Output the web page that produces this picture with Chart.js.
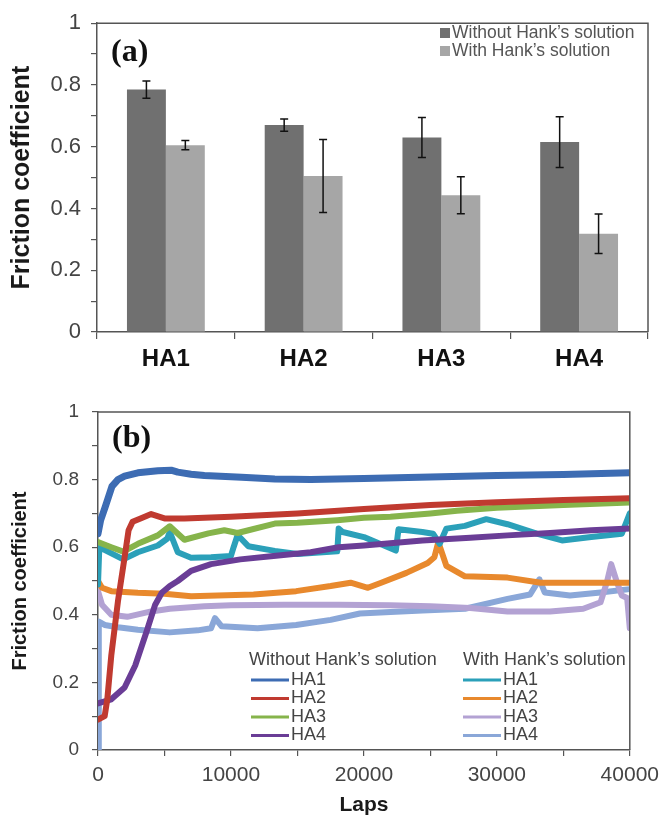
<!DOCTYPE html>
<html>
<head>
<meta charset="utf-8">
<script src="https://cdn.jsdelivr.net/npm/chart.js@4.4.1/dist/chart.umd.min.js"></script>
<style>
  html, body { margin: 0; padding: 0; background: #fff; }
  #wrapA { position: absolute; left: 0; top: 0; width: 666px; height: 380px; }
  #wrapB { position: absolute; left: 0; top: 380px; width: 666px; height: 448px; }
</style>
</head>
<body>
<div id="wrapA"><canvas id="chartA" width="666" height="380"></canvas></div>
<div id="wrapB"><canvas id="chartB" width="666" height="448"></canvas></div>
<script>
// ---- panel (a): mean friction coefficient ----
let samples = ['HA1', 'HA2', 'HA3', 'HA4'];
let withoutHank = [0.785, 0.670, 0.630, 0.615];
let withoutHankErr = [0.028, 0.020, 0.065, 0.082];
let withHank = [0.605, 0.505, 0.443, 0.318];
let withHankErr = [0.015, 0.118, 0.060, 0.064];

let frictionTicks = [0, 0.1, 0.2, 0.3, 0.4, 0.5, 0.6, 0.7, 0.8, 0.9, 1];
let frictionLabels = ['0', '', '0.2', '', '0.4', '', '0.6', '', '0.8', '', '1'];

// ---- panel (b): friction coefficient vs laps ----
let lapTicks = [0, 5000, 10000, 15000, 20000, 25000, 30000, 35000, 40000];
let lapLabels = ['0', '', '10000', '', '20000', '', '30000', '', '40000'];

let lapsDry1 = [0, 200, 550, 1050, 1500, 2000, 3000, 4500, 5500, 6000, 7000, 8000, 10800, 13300, 16000, 20000, 25000, 30000, 35000, 40000];
let fricDry1 = [0.64, 0.68, 0.72, 0.78, 0.80, 0.81, 0.82, 0.826, 0.828, 0.822, 0.816, 0.812, 0.807, 0.802, 0.80, 0.803, 0.808, 0.812, 0.815, 0.82];

let lapsDry2 = [0, 500, 700, 1000, 1500, 2000, 2300, 2600, 3200, 4000, 5000, 6500, 10000, 15000, 20000, 25000, 30000, 35000, 40000];
let fricDry2 = [0.09, 0.10, 0.15, 0.28, 0.44, 0.57, 0.65, 0.675, 0.685, 0.698, 0.685, 0.685, 0.69, 0.70, 0.713, 0.725, 0.733, 0.74, 0.745];

let lapsDry3 = [0, 1000, 1900, 3000, 4500, 5400, 6500, 8300, 9500, 10500, 13300, 15000, 18000, 20000, 22000, 25000, 27000, 30000, 35000, 40000];
let fricDry3 = [0.615, 0.60, 0.587, 0.61, 0.635, 0.662, 0.622, 0.641, 0.65, 0.642, 0.67, 0.672, 0.68, 0.687, 0.69, 0.70, 0.708, 0.717, 0.725, 0.732];

let lapsDry4 = [0, 1000, 2000, 2800, 3650, 4300, 4800, 5400, 6000, 7000, 8500, 10700, 13200, 16000, 18100, 20000, 24400, 28000, 30800, 34000, 37100, 40000];
let fricDry4 = [0.138, 0.15, 0.185, 0.25, 0.35, 0.43, 0.465, 0.485, 0.50, 0.53, 0.55, 0.564, 0.574, 0.585, 0.60, 0.605, 0.62, 0.628, 0.635, 0.642, 0.65, 0.655];

let lapsWet1 = [0, 100, 600, 1900, 3000, 4500, 5200, 5400, 6000, 7000, 8500, 10000, 10200, 10500, 11300, 13300, 15000, 18000, 18100, 18400, 20000, 22400, 22600, 24400, 25200, 25700, 26200, 27600, 29200, 30800, 33000, 34900, 37100, 39400, 40000];
let fricWet1 = [0.49, 0.60, 0.59, 0.564, 0.585, 0.605, 0.625, 0.645, 0.585, 0.569, 0.57, 0.574, 0.60, 0.636, 0.603, 0.589, 0.58, 0.588, 0.655, 0.645, 0.63, 0.59, 0.653, 0.645, 0.64, 0.61, 0.655, 0.663, 0.683, 0.668, 0.64, 0.62, 0.63, 0.64, 0.70];

let lapsWet2 = [0, 300, 1000, 3000, 5000, 7000, 9000, 11700, 14900, 17500, 19000, 20300, 21300, 23200, 24800, 25300, 25600, 26200, 27600, 30800, 33300, 37100, 40000];
let fricWet2 = [0.50, 0.48, 0.47, 0.465, 0.462, 0.455, 0.457, 0.46, 0.47, 0.485, 0.495, 0.48, 0.495, 0.524, 0.553, 0.57, 0.615, 0.545, 0.514, 0.51, 0.495, 0.495, 0.495];

let lapsWet3 = [0, 300, 1000, 2200, 4000, 5400, 8000, 10000, 14000, 18100, 22000, 25000, 28000, 30800, 34000, 36500, 37800, 38300, 38600, 39000, 39400, 39800, 40000];
let fricWet3 = [0.47, 0.43, 0.40, 0.394, 0.41, 0.418, 0.425, 0.428, 0.43, 0.43, 0.428, 0.425, 0.42, 0.41, 0.41, 0.418, 0.437, 0.50, 0.55, 0.50, 0.457, 0.45, 0.36];

let lapsWet4 = [0, 60, 500, 1500, 3000, 5400, 7500, 8500, 8800, 9300, 12000, 14900, 17500, 19700, 22000, 24400, 27600, 30800, 32500, 33200, 33600, 35500, 37800, 40000];
let fricWet4 = [0.0, 0.38, 0.37, 0.363, 0.356, 0.348, 0.354, 0.36, 0.39, 0.366, 0.36, 0.37, 0.385, 0.404, 0.408, 0.413, 0.418, 0.447, 0.46, 0.505, 0.466, 0.457, 0.466, 0.476];

let seriesNames = ['HA1', 'HA2', 'HA3', 'HA4'];
let dryColors = ['#3d6cb3', '#c03a30', '#86b44b', '#6a3d96'];
let wetColors = ['#2ba0b9', '#e8892d', '#b3a2d3', '#8aa7d8'];

const sans = '"Liberation Sans", Arial, sans-serif';
const axisGrey = '#555';

function toPoints(xs, ys) {
  return xs.map((x, i) => ({ x: x, y: ys[i] }));
}

// top and right frame lines
const frame = {
  id: 'frame',
  afterDraw(chart) {
    const ctx = chart.ctx, a = chart.chartArea;
    ctx.save();
    ctx.strokeStyle = axisGrey;
    ctx.lineWidth = 1.5;
    ctx.beginPath();
    ctx.moveTo(a.left, a.top);
    ctx.lineTo(a.right, a.top);
    ctx.lineTo(a.right, a.bottom);
    ctx.stroke();
    ctx.restore();
  }
};

const errorBars = {
  id: 'errorBars',
  afterDatasetsDraw(chart) {
    const ctx = chart.ctx, y = chart.scales.y;
    ctx.save();
    ctx.strokeStyle = '#111';
    ctx.lineWidth = 1.5;
    chart.data.datasets.forEach((ds, i) => {
      chart.getDatasetMeta(i).data.forEach((bar, j) => {
        const top = y.getPixelForValue(ds.data[j] + ds.errors[j]);
        const bot = y.getPixelForValue(ds.data[j] - ds.errors[j]);
        ctx.beginPath();
        ctx.moveTo(bar.x, top); ctx.lineTo(bar.x, bot);
        ctx.moveTo(bar.x - 4, top); ctx.lineTo(bar.x + 4, top);
        ctx.moveTo(bar.x - 4, bot); ctx.lineTo(bar.x + 4, bot);
        ctx.stroke();
      });
    });
    ctx.restore();
  }
};

const legendA = {
  id: 'legendA',
  afterDraw(chart) {
    const ctx = chart.ctx;
    ctx.save();
    ctx.font = 'bold 32px "Liberation Serif", "Times New Roman", serif';
    ctx.fillStyle = '#111';
    ctx.textBaseline = 'alphabetic';
    ctx.fillText('(a)', 111, 61);
    ctx.font = '17.5px ' + sans;
    ctx.textBaseline = 'middle';
    chart.data.datasets.forEach((ds, i) => {
      const yy = 33 + i * 18;
      ctx.fillStyle = ds.backgroundColor;
      ctx.fillRect(440, yy - 5, 10, 10);
      ctx.fillStyle = '#555';
      ctx.fillText(ds.label, 452, yy);
    });
    ctx.restore();
  }
};

const legendB = {
  id: 'legendB',
  afterDraw(chart) {
    const ctx = chart.ctx;
    ctx.save();
    ctx.font = 'bold 32px "Liberation Serif", "Times New Roman", serif';
    ctx.fillStyle = '#111';
    ctx.textBaseline = 'alphabetic';
    ctx.fillText('(b)', 112, 67);
    ctx.font = '18px ' + sans;
    ctx.textBaseline = 'middle';
    ctx.fillStyle = '#444';
    ctx.fillText('Without Hank\u2019s solution', 249, 280);
    ctx.fillText('With Hank\u2019s solution', 463, 280);
    ctx.lineWidth = 3;
    seriesNames.forEach((name, i) => {
      const yy = 300 + i * 18.5;
      [[251, dryColors[i]], [463, wetColors[i]]].forEach(([x0, c]) => {
        ctx.strokeStyle = c;
        ctx.beginPath();
        ctx.moveTo(x0, yy); ctx.lineTo(x0 + 38, yy);
        ctx.stroke();
        ctx.fillStyle = '#444';
        ctx.fillText(name, x0 + 40, yy);
      });
    });
    ctx.restore();
  }
};

function frictionAxis(titleSize, titlePad, tickSize, tickPad, width) {
  return {
    min: 0, max: 1,
    afterBuildTicks: s => { s.ticks = frictionTicks.map(v => ({ value: v })); },
    afterFit: s => { s.width = width; },
    border: { color: axisGrey, width: 1.5 },
    grid: { drawOnChartArea: false, tickLength: 6, color: axisGrey, lineWidth: 1.2 },
    ticks: {
      autoSkip: false, padding: tickPad, color: '#444',
      font: { family: sans, size: tickSize },
      callback: (v, i) => frictionLabels[i]
    },
    title: {
      display: true, text: 'Friction coefficient', color: '#1a1a1a',
      font: { family: sans, size: titleSize, weight: 'bold' },
      padding: { top: titlePad, bottom: 0 }
    }
  };
}

new Chart(document.getElementById('chartA').getContext('2d'), {
  type: 'bar',
  data: {
    labels: samples,
    datasets: [
      { label: 'Without Hank\u2019s solution', data: withoutHank, errors: withoutHankErr, backgroundColor: '#707070' },
      { label: 'With Hank\u2019s solution', data: withHank, errors: withHankErr, backgroundColor: '#a6a6a6' }
    ]
  },
  options: {
    responsive: false,
    animation: false,
    layout: { padding: { top: 18, right: 18, left: 0, bottom: 0 } },
    categoryPercentage: 0.565,
    barPercentage: 1.0,
    plugins: { legend: { display: false }, tooltip: { enabled: false } },
    scales: {
      x: {
        afterFit: s => { s.height = 48; },
        border: { color: axisGrey, width: 1.5 },
        grid: { offset: true, drawOnChartArea: false, tickLength: 7, color: axisGrey, lineWidth: 1.2 },
        ticks: { padding: 6, color: '#111', font: { family: sans, size: 24, weight: 'bold' } }
      },
      y: frictionAxis(25, 7, 22, 10, 97)
    }
  },
  plugins: [errorBars, frame, legendA]
});

let dryLaps = [lapsDry1, lapsDry2, lapsDry3, lapsDry4];
let dryFric = [fricDry1, fricDry2, fricDry3, fricDry4];
let wetLaps = [lapsWet1, lapsWet2, lapsWet3, lapsWet4];
let wetFric = [fricWet1, fricWet2, fricWet3, fricWet4];

let lineSets = [];
seriesNames.forEach((n, i) => {
  lineSets.push({ label: n + ' without', data: toPoints(dryLaps[i], dryFric[i]), borderColor: dryColors[i], borderWidth: i === 0 ? 7 : 6 });
});
seriesNames.forEach((n, i) => {
  lineSets.push({ label: n + ' with', data: toPoints(wetLaps[i], wetFric[i]), borderColor: wetColors[i], borderWidth: 6 });
});

new Chart(document.getElementById('chartB').getContext('2d'), {
  type: 'line',
  data: { datasets: lineSets },
  options: {
    responsive: false,
    animation: false,
    layout: { padding: { top: 32, right: 33, left: 0, bottom: 0 } },
    elements: { point: { radius: 0 }, line: { tension: 0, borderCapStyle: 'round', borderJoinStyle: 'round' } },
    plugins: { legend: { display: false }, tooltip: { enabled: false } },
    scales: {
      x: {
        type: 'linear', min: 0, max: 40000,
        afterBuildTicks: s => { s.ticks = lapTicks.map(v => ({ value: v })); },
        afterFit: s => { s.height = 78; },
        border: { color: axisGrey, width: 1.5 },
        grid: { drawOnChartArea: false, tickLength: 6, color: axisGrey, lineWidth: 1.2 },
        ticks: {
          autoSkip: false, maxRotation: 0, padding: 7, color: '#444',
          font: { family: sans, size: 21 },
          callback: (v, i) => lapLabels[i]
        },
        title: {
          display: true, text: 'Laps', color: '#1a1a1a',
          font: { family: sans, size: 21, weight: 'bold' },
          padding: { top: 0, bottom: 10 }
        }
      },
      y: frictionAxis(20, 8, 19, 13, 98)
    }
  },
  plugins: [frame, legendB]
});
</script>
</body>
</html>
